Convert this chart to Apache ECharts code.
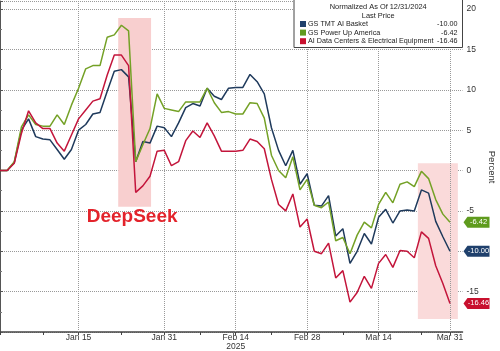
<!DOCTYPE html>
<html><head><meta charset="utf-8">
<script src="https://cdn.jsdelivr.net/npm/echarts@6/dist/echarts.min.js"></script>
<style>html,body{margin:0;padding:0;background:#fff}#c{width:500px;height:351px}</style>
</head><body><div id="c"></div>
<script>
const seriesNames = ['GS TMT AI Basket', 'GS Power Up America', 'AI Data Centers & Electrical Equipment'];
const tmtAI = [0,0,1.0,5.0,6.4,4.2,3.9,3.8,2.6,1.4,2.6,5.0,5.7,7.0,7.2,9.8,12.3,12.5,11.6,1.1,3.6,3.4,5.5,5.3,4.2,5.9,7.8,8.3,8.0,10.2,9.2,8.8,10.2,10.3,10.3,11.9,11.0,9.5,5.3,2.5,0.6,2.5,-1.7,-0.4,-4.3,-4.4,-3.1,-8.1,-7.2,-11.5,-10.0,-7.8,-9.1,-5.8,-4.8,-6.5,-5.0,-4.9,-5.0,-2.4,-2.8,-6.3,-8.2,-10.00];
const powerUp = [0,0,1.1,5.4,6.9,5.7,5.5,5.5,6.9,5.7,8.1,10.2,12.6,13.0,13.0,16.5,16.8,18.0,17.3,1.1,3.2,5.2,9.5,7.7,7.5,7.3,8.5,8.5,8.5,10.2,8.4,7.2,7.3,7.0,7.0,8.4,8.3,6.5,1.9,0.0,-0.9,1.7,-2.4,-1.1,-4.3,-4.6,-3.9,-8.7,-8.3,-10.3,-8.0,-6.4,-7.1,-4.2,-2.7,-4.0,-1.7,-1.4,-2.0,-0.1,-1.0,-3.6,-5.4,-6.42];
const dataCenters = [0,0,0.9,4.6,7.4,5.9,5.2,5.2,3.4,2.4,4.4,6.4,7.5,8.6,8.9,11.8,14.3,14.3,13.0,-2.7,-1.9,-0.7,2.4,2.5,0.6,1.1,3.7,4.9,4.1,5.9,4.3,2.4,2.4,2.4,2.5,3.9,3.6,2.7,-1.1,-4.2,-5.0,-2.9,-7.0,-6.0,-10.0,-10.3,-9.0,-13.3,-12.4,-16.3,-15.1,-13.1,-14.6,-11.5,-10.4,-12.0,-9.9,-10.0,-10.8,-7.6,-8.4,-11.8,-14.0,-16.46];
const tickIdx = [11, 23, 33, 43, 53, 63];
const tickLabels = ['Jan 15', 'Jan 31', 'Feb 14\n2025', 'Feb 28', 'Mar 14', 'Mar 31'];
const minorTickIdx = [0, 6, 17, 28, 38, 48, 59];
const shadeDeepSeek = [[16.55, 18.9], [21.15, -4.5]];
const shadeRecent = [[58.5, 0.9], [64.1, -18.4]];
const legendTitle = ['Normalized As Of 12/31/2024', 'Last Price'];
const annotation = 'DeepSeek';

const lineColors = ['#1f3a5c', '#74a126', '#c3153b'];
const tagColors = ['#1f406c', '#5f9b1e', '#c8102e'];
const FONT = "Arial,'Liberation Sans',sans-serif";
const allSeries = [tmtAI, powerUp, dataCenters];
const gridStyle = {color: '#999', type: 'dotted', width: 1};

const chart = echarts.init(document.getElementById('c'), null, {renderer: 'canvas'});
const series = allSeries.map((arr, k) => ({
  name: seriesNames[k], type: 'line', showSymbol: false, symbol: 'none',
  data: arr.map((v, i) => [i, v]),
  lineStyle: {width: 1.5, color: lineColors[k]}, itemStyle: {color: lineColors[k]},
  z: 3 + k, animation: false,
  markArea: k === 0 ? {
    silent: true, z: 1,
    data: [
      [{coord: shadeDeepSeek[0], itemStyle: {color: '#f8cfcf'}}, {coord: shadeDeepSeek[1]}],
      [{coord: shadeRecent[0], itemStyle: {color: '#fadada'}}, {coord: shadeRecent[1]}]
    ]
  } : undefined,
  markLine: k === 0 ? {
    silent: true, symbol: ['none', 'none'], z: 2, label: {show: false}, animation: false,
    lineStyle: gridStyle, emphasis: {disabled: true},
    data: tickIdx.map(t => ({xAxis: t}))
  } : undefined
}));

chart.setOption({
  animation: false,
  backgroundColor: '#fff',
  grid: {left: 0, right: 37.5, top: 1, bottom: 17, containLabel: false},
  xAxis: [{
    type: 'value', min: 0, max: 64.75, position: 'bottom',
    axisLine: {show: true, onZero: false, lineStyle: {color: '#444', width: 1.5}},
    axisTick: {show: true, customValues: tickIdx, length: 3, lineStyle: {color: '#444'}},
    axisLabel: {show: true, customValues: tickIdx, margin: 1, color: '#333', fontSize: 8.5, lineHeight: 9, fontFamily: FONT,
      formatter: v => tickLabels[tickIdx.indexOf(Math.round(v))] || ''},
    splitLine: {show: false}
  }, {
    type: 'value', min: 0, max: 64.75, position: 'bottom', gridIndex: 0,
    axisLine: {show: false, onZero: false},
    axisTick: {show: true, customValues: minorTickIdx, length: 3, lineStyle: {color: '#444'}},
    axisLabel: {show: false}, splitLine: {show: false}
  }],
  yAxis: {
    type: 'value', min: -20, max: 21, interval: 5, position: 'right',
    axisLine: {show: true, lineStyle: {color: '#555', width: 1}},
    axisTick: {show: true, length: 3, lineStyle: {color: '#555'}},
    minorTick: {show: true, splitNumber: 2, length: 2, lineStyle: {color: '#777'}},
    axisLabel: {margin: 4, color: '#333', fontSize: 8.5, fontFamily: FONT, formatter: v => (v === -20 ? '' : String(v))},
    splitLine: {show: true, lineStyle: gridStyle}
  },
  series: series
});

const gfx = [];
const axisRight = chart.convertToPixel({gridIndex: 0}, [64.75, 0])[0];
allSeries.forEach((arr, k) => {
  const last = arr.length - 1;
  const y = chart.convertToPixel({gridIndex: 0}, [last, arr[last]])[1];
  const x0 = axisRight + 1;
  gfx.push({type: 'polygon', z: 100, shape: {points: [[x0, y], [x0 + 4, y - 5.5], [x0 + 26, y - 5.5], [x0 + 26, y + 5.5], [x0 + 4, y + 5.5]]}, style: {fill: tagColors[k]}});
  gfx.push({type: 'text', z: 101, x: x0 + 15, y: y, style: {text: arr[last].toFixed(2), fill: '#fff', fontSize: 7.5, fontFamily: FONT, align: 'center', verticalAlign: 'middle'}});
});
const boxL = 294, boxR = axisRight;
gfx.push({type: 'rect', z: 90, shape: {x: boxL, y: -1, width: boxR - boxL, height: 48.5}, style: {fill: '#fff', stroke: '#444', lineWidth: 1}});
const cx = (boxL + boxR) / 2;
gfx.push({type: 'text', z: 91, x: cx, y: 7, style: {text: legendTitle[0], fill: '#222', fontSize: 7.4, fontFamily: FONT, align: 'center', verticalAlign: 'middle'}});
gfx.push({type: 'text', z: 91, x: cx, y: 15.5, style: {text: legendTitle[1], fill: '#222', fontSize: 7.4, fontFamily: FONT, align: 'center', verticalAlign: 'middle'}});
allSeries.forEach((arr, k) => {
  const y = 24 + k * 8.6;
  gfx.push({type: 'rect', z: 91, shape: {x: 300, y: y - 3, width: 6, height: 6}, style: {fill: tagColors[k]}});
  gfx.push({type: 'text', z: 91, x: 308, y: y, style: {text: seriesNames[k], fill: '#222', fontSize: 7.2, fontFamily: FONT, align: 'left', verticalAlign: 'middle'}});
  gfx.push({type: 'text', z: 91, x: boxR - 5, y: y, style: {text: arr[arr.length - 1].toFixed(2), fill: '#222', fontSize: 7.2, fontFamily: FONT, align: 'right', verticalAlign: 'middle'}});
});
gfx.push({type: 'text', z: 91, x: 492, y: 167, rotation: -Math.PI / 2, style: {text: 'Percent', fill: '#333', fontSize: 9.5, fontFamily: FONT, align: 'center', verticalAlign: 'middle'}});
const ap = chart.convertToPixel({gridIndex: 0}, [18.5, -5.6]);
gfx.push({type: 'text', z: 91, x: ap[0], y: ap[1] + 1.5, style: {text: annotation, fill: '#e3232b', fontSize: 19, fontWeight: 'bold', fontFamily: FONT, align: 'center', verticalAlign: 'middle'}});
chart.setOption({graphic: gfx});
</script></body></html>
